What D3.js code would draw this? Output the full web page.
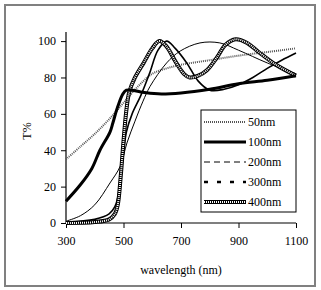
<!DOCTYPE html>
<html>
<head>
<meta charset="utf-8">
<script src="https://cdn.jsdelivr.net/npm/d3@7"></script>
<style>
  body { margin: 0; background: #fff; }
  svg text { font-family: "Liberation Serif", "Times New Roman", serif; font-size: 12px; fill: #000; }
</style>
</head>
<body>
<div id="chart"></div>
<script>
// wavelength (nm) / transmittance (%)
var series = ["50nm", "100nm", "200nm", "300nm", "400nm"];

var wl50  = [300, 350, 400, 450, 500, 550, 600, 650, 700, 800, 900, 1000, 1100];
var t50   = [35, 42, 49, 57, 66, 75, 82, 85, 87, 89.5, 92, 94, 96];

var wl100 = [300, 350, 390, 418, 453, 463, 480, 498, 510, 530, 560, 620, 700, 800, 900, 1000, 1100];
var t100  = [12, 21, 30, 40, 50, 55, 64, 71, 73, 73, 72, 71, 71.5, 73.5, 76.5, 78.5, 81];

var wl200 = [300, 350, 400, 453, 488, 512, 540, 568, 592, 650, 697, 766, 835, 900, 1000, 1100];
var t200  = [1, 4, 10, 22, 31, 44, 56, 67, 75, 88, 94.5, 99, 99, 95, 88, 82];

var wl300 = [300, 400, 450, 470, 480, 490, 500, 510, 530, 560, 590, 620, 650, 680, 720, 760, 800, 850, 900, 950, 1000, 1050, 1100];
var t300  = [0.5, 2, 5, 9, 14, 25, 38, 50, 60, 70, 82, 95, 100, 96, 88, 78, 73, 73.5, 76, 80, 85, 89.5, 93.5];

var wl400 = [300, 400, 450, 470, 480, 490, 500, 510, 520, 540, 570, 600, 625, 650, 680, 710, 730, 760, 790, 825, 855, 890, 930, 970, 1030, 1100];
var t400  = [0, 0.5, 2, 5, 10, 25, 45, 62, 72, 80, 88, 96, 100, 97, 89, 82, 80, 81, 84, 91, 98, 101, 99, 94, 87, 81];

var xTicks = [300, 500, 700, 900, 1100];
var yTicks = [0, 20, 40, 60, 80, 100];

var W = 321, H = 290;
var svg = d3.select("#chart").append("svg").attr("width", W).attr("height", H);

// outer grey frame
svg.append("rect")
    .attr("x", 5).attr("y", 5)
    .attr("width", 310).attr("height", 281)
    .attr("fill", "none").attr("stroke", "#808080").attr("stroke-width", 2);

var x = d3.scaleLinear().domain([300, 1100]).range([66, 296]);
var y = d3.scaleLinear().domain([0, 105]).range([223, 32]);

var g = svg.append("g");

// axes
g.append("g")
    .attr("transform", "translate(0," + y(0) + ")")
    .call(d3.axisBottom(x).tickValues(xTicks).tickSize(5).tickPadding(8).tickFormat(d3.format("d")))
    .call(function(a) { a.select(".domain").attr("d", "M" + x(300) + ",0H" + x(1100)); });

g.append("g")
    .attr("transform", "translate(" + x(300) + ",0)")
    .call(d3.axisLeft(y).tickValues(yTicks).tickSize(5).tickPadding(5).tickFormat(d3.format("d")))
    .call(function(a) { a.select(".domain").attr("d", "M0," + y(0) + "V" + y(105)); });

g.selectAll(".domain").attr("stroke", "#000").attr("stroke-width", 1.2);
g.selectAll(".tick line").attr("stroke", "#000");
g.selectAll(".tick text")
    .style("font-family", "'Liberation Serif', serif")
    .style("font-size", "12px")
    .attr("fill", "#000");

// axis titles
svg.append("text")
    .attr("x", 181).attr("y", 274)
    .attr("text-anchor", "middle")
    .text("wavelength (nm)");

svg.append("text")
    .attr("transform", "translate(31,131) rotate(-90)")
    .attr("text-anchor", "middle")
    .text("T%");

function pts(wl, t) {
  return wl.map(function(d, i) { return [d, t[i]]; });
}

var line = d3.line()
    .x(function(d) { return x(d[0]); })
    .y(function(d) { return y(d[1]); })
    .curve(d3.curveCatmullRom.alpha(0.5));

var plot = g.append("g").attr("fill", "none");

// 50nm grey hatched
plot.append("path").attr("d", line(pts(wl50, t50)))
    .attr("stroke", "#555").attr("stroke-width", 2).attr("stroke-dasharray", "1,1");
// 200nm thin
plot.append("path").attr("d", line(pts(wl200, t200)))
    .attr("stroke", "#000").attr("stroke-width", 1);
// 300nm
plot.append("path").attr("d", line(pts(wl300, t300)))
    .attr("stroke", "#000").attr("stroke-width", 1.6);
// 400nm double hatched
plot.append("path").attr("d", line(pts(wl400, t400)))
    .attr("stroke", "#000").attr("stroke-width", 4);
plot.append("path").attr("d", line(pts(wl400, t400)))
    .attr("stroke", "#fff").attr("stroke-width", 2).attr("stroke-dasharray", "1,1");
// 100nm thick
plot.append("path").attr("d", line(pts(wl100, t100)))
    .attr("stroke", "#000").attr("stroke-width", 3);

// legend
var lg = svg.append("g").attr("transform", "translate(201,110)");
lg.append("rect").attr("width", 95).attr("height", 102)
    .attr("fill", "#fff").attr("stroke", "#000").attr("stroke-width", 1);

var rowY = d3.scalePoint().domain(series).range([12, 92]);
var styles = {
  "50nm":  [{ stroke: "#555", w: 2, dash: "1,1" }],
  "100nm": [{ stroke: "#000", w: 3, dash: null }],
  "200nm": [{ stroke: "#000", w: 1, dash: "6,4" }],
  "300nm": [{ stroke: "#000", w: 2.5, dash: "4,9" }],
  "400nm": [{ stroke: "#000", w: 4, dash: null }, { stroke: "#fff", w: 2, dash: "1,1" }]
};

series.forEach(function(s) {
  var yy = rowY(s);
  styles[s].forEach(function(st) {
    lg.append("line")
        .attr("x1", 3).attr("x2", 45).attr("y1", yy).attr("y2", yy)
        .attr("stroke", st.stroke).attr("stroke-width", st.w)
        .attr("stroke-dasharray", st.dash);
  });
  lg.append("text").attr("x", 47).attr("y", yy + 4).text(s);
});
</script>
</body>
</html>
